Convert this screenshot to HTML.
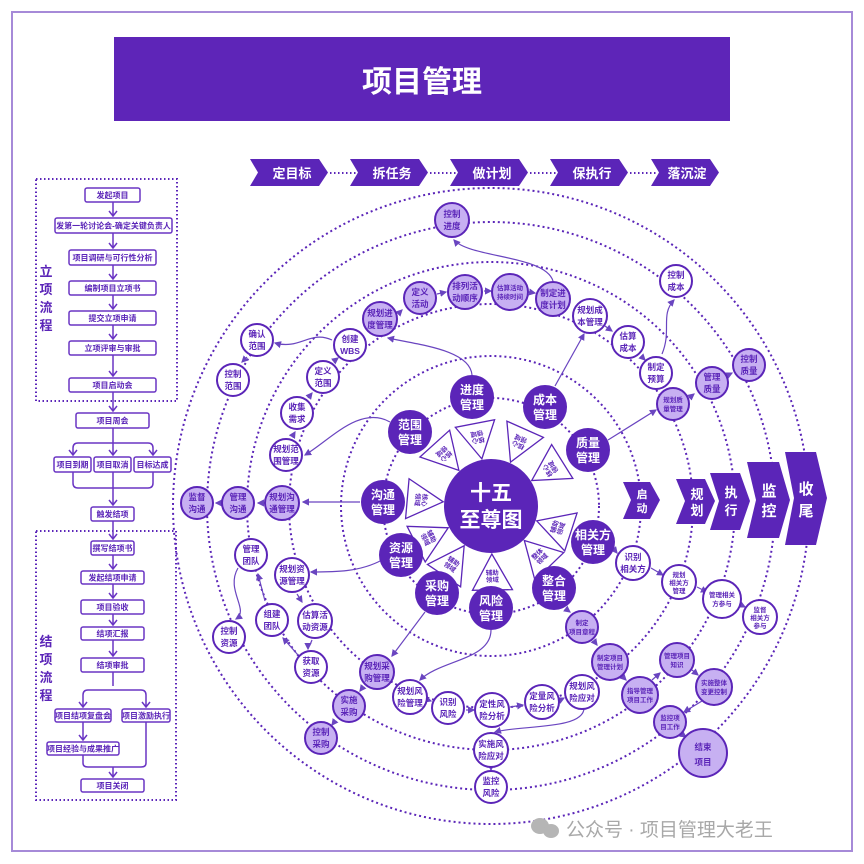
<!DOCTYPE html>
<html><head><meta charset="utf-8"><style>
html,body{margin:0;padding:0;background:#fff}
svg{display:block}
text{font-family:"Liberation Sans","Noto Sans CJK SC",sans-serif;font-weight:bold}
.b{fill:#fff;stroke:#6a35c4;stroke-width:1.5}
.bt{fill:#5b25b8;font-size:8px;text-anchor:middle}
.r{fill:none;stroke:#5b25b8;stroke-width:2;stroke-dasharray:2 3}
.d{fill:none;stroke:#5b25b8;stroke-width:2;stroke-dasharray:1.5 2.5}
.a{fill:none;stroke:#6a45c0;stroke-width:1.2;marker-end:url(#ar)}
.w{fill:#fff;stroke:#5b25b8;stroke-width:2}
.l{fill:#c7b0f2;stroke:#5b25b8;stroke-width:2}
.k{fill:#5b25b8}
.nt{fill:#5b25b8;font-size:8.5px;text-anchor:middle}
.st{fill:#5b25b8;font-size:6.5px;text-anchor:middle}
.kt{fill:#fff;font-size:12px;text-anchor:middle}
.tri{fill:#fff;stroke:#5b25b8;stroke-width:1.3}
.tt{fill:#5b25b8;font-size:6.5px;text-anchor:middle}
.ch{fill:#5b25b8}
.ct{fill:#fff;text-anchor:middle}
</style></head><body>
<svg width="864" height="864" viewBox="0 0 864 864" xmlns="http://www.w3.org/2000/svg">
<defs><marker id="ar" markerWidth="6" markerHeight="6" refX="5" refY="3" orient="auto"><path d="M0,0 L6,3 L0,6 z" fill="#6a45c0"/></marker></defs>
<rect x="12" y="12" width="840" height="839" fill="none" stroke="#a68ad8" stroke-width="2"/>
<rect x="114" y="37" width="616" height="84" fill="#5e25b8"/>
<text x="422" y="92" fill="#fff" font-size="30" text-anchor="middle">项目管理</text>

<g>
<path class="ch" d="M250,159 L319,159 L328,172.5 L319,186 L250,186 L258,172.5Z"/>
<path class="ch" d="M350,159 L419,159 L428,172.5 L419,186 L350,186 L358,172.5Z"/>
<path class="ch" d="M450,159 L519,159 L528,172.5 L519,186 L450,186 L458,172.5Z"/>
<path class="ch" d="M550,159 L619,159 L628,172.5 L619,186 L550,186 L558,172.5Z"/>
<path class="ch" d="M651,159 L710,159 L719,172.5 L710,186 L651,186 L659,172.5Z"/>
<line class="d" x1="330" y1="173" x2="356" y2="173" stroke-width="1.5"/>
<line class="d" x1="430" y1="173" x2="456" y2="173" stroke-width="1.5"/>
<line class="d" x1="530" y1="173" x2="556" y2="173" stroke-width="1.5"/>
<line class="d" x1="630" y1="173" x2="657" y2="173" stroke-width="1.5"/>
<text class="ct" x="292" y="178" font-size="13">定目标</text>
<text class="ct" x="392" y="178" font-size="13">拆任务</text>
<text class="ct" x="492" y="178" font-size="13">做计划</text>
<text class="ct" x="592" y="178" font-size="13">保执行</text>
<text class="ct" x="687" y="178" font-size="13">落沉淀</text>
</g>

<rect x="36" y="179" width="141" height="222" fill="none" stroke="#5b25b8" stroke-width="2" stroke-dasharray="1.5 2.5"/>
<rect x="36" y="531" width="140" height="269" fill="none" stroke="#5b25b8" stroke-width="2" stroke-dasharray="1.5 2.5"/>
<g fill="#5b25b8" font-size="13" text-anchor="middle">
<text x="46" y="276">立</text><text x="46" y="294">项</text><text x="46" y="312">流</text><text x="46" y="330">程</text>
<text x="46" y="646">结</text><text x="46" y="664">项</text><text x="46" y="682">流</text><text x="46" y="700">程</text>
</g>
<g stroke="#6a35c4" stroke-width="1.5" fill="none">
<path d="M113,202 V216 M109,211 L113,216 L117,211"/>
<path d="M113,233 V248 M109,243 L113,248 L117,243"/>
<path d="M113,265 V279 M109,274 L113,279 L117,274"/>
<path d="M113,295 V309 M109,304 L113,309 L117,304"/>
<path d="M113,325 V339 M109,334 L113,339 L117,334"/>
<path d="M113,355 V376 M109,371 L113,376 L117,371"/>
<path d="M113,392 V411 M109,406 L113,411 L117,406"/>
<path d="M113,428 V455 M73,455 V448 Q73,443 78,443 H148 Q153,443 153,448 V455 M69,450 L73,455 L77,450 M109,450 L113,455 L117,450 M149,450 L153,455 L157,450"/>
<path d="M73,472 V483 Q73,488 78,488 H148 Q153,488 153,483 V472 M113,472 V505 M109,500 L113,505 L117,500"/>
<path d="M113,521 V539 M109,534 L113,539 L117,534"/>
<path d="M113,555 V569 M109,564 L113,569 L117,564"/>
<path d="M113,584 V598 M109,593 L113,598 L117,593"/>
<path d="M113,614 V625 M109,620 L113,625 L117,620"/>
<path d="M113,640 V656 M109,651 L113,656 L117,651"/>
<path d="M113,672 V686 M83,707 V695 Q83,690 88,690 H141 Q146,690 146,695 V707 M79,702 L83,707 L87,702 M142,702 L146,707 L150,702"/>
<path d="M83,722 V740 M79,735 L83,740 L87,735"/>
<path d="M83,755 V763 Q83,767 88,767 H141 Q146,767 146,763 V722 M113,767 V777 M109,772 L113,777 L117,772"/>
</g>
<rect class="b" x="85" y="188" width="55" height="14" rx="2"/><text class="bt" x="112.5" y="198">发起项目</text>
<rect class="b" x="55" y="218" width="117" height="15" rx="2"/><text class="bt" x="113.5" y="228.5">发第一轮讨论会-确定关键负责人</text>
<rect class="b" x="69" y="250" width="87" height="15" rx="2"/><text class="bt" x="112.5" y="260.5">项目调研与可行性分析</text>
<rect class="b" x="69" y="281" width="87" height="14" rx="2"/><text class="bt" x="112.5" y="291">编制项目立项书</text>
<rect class="b" x="69" y="311" width="87" height="14" rx="2"/><text class="bt" x="112.5" y="321">提交立项申请</text>
<rect class="b" x="69" y="341" width="87" height="14" rx="2"/><text class="bt" x="112.5" y="351">立项评审与审批</text>
<rect class="b" x="69" y="378" width="87" height="14" rx="2"/><text class="bt" x="112.5" y="388">项目启动会</text>
<rect class="b" x="76" y="413" width="73" height="15" rx="2"/><text class="bt" x="112.5" y="423.5">项目周会</text>
<rect class="b" x="54" y="457" width="37" height="15" rx="2"/><text class="bt" x="72.5" y="467.5">项目到期</text>
<rect class="b" x="94" y="457" width="37" height="15" rx="2"/><text class="bt" x="112.5" y="467.5">项目取消</text>
<rect class="b" x="134" y="457" width="37" height="15" rx="2"/><text class="bt" x="152.5" y="467.5">目标达成</text>
<rect class="b" x="91" y="507" width="43" height="14" rx="2"/><text class="bt" x="112.5" y="517">触发结项</text>
<rect class="b" x="91" y="541" width="43" height="14" rx="2"/><text class="bt" x="112.5" y="551">撰写结项书</text>
<rect class="b" x="81" y="571" width="63" height="13" rx="2"/><text class="bt" x="112.5" y="580.5">发起结项申请</text>
<rect class="b" x="81" y="600" width="63" height="14" rx="2"/><text class="bt" x="112.5" y="610">项目验收</text>
<rect class="b" x="81" y="627" width="63" height="13" rx="2"/><text class="bt" x="112.5" y="636.5">结项汇报</text>
<rect class="b" x="81" y="658" width="63" height="14" rx="2"/><text class="bt" x="112.5" y="668">结项审批</text>
<rect class="b" x="55" y="709" width="56" height="13" rx="2"/><text class="bt" x="83" y="718.5">项目结项复盘会</text>
<rect class="b" x="122" y="709" width="48" height="13" rx="2"/><text class="bt" x="146" y="718.5">项目激励执行</text>
<rect class="b" x="47" y="742" width="72" height="13" rx="2"/><text class="bt" x="83" y="751.5">项目经验与成果推广</text>
<rect class="b" x="81" y="779" width="63" height="13" rx="2"/><text class="bt" x="112.5" y="788.5">项目关闭</text>

<g>
<circle class="r" cx="491" cy="506" r="108"/>
<circle class="r" cx="491" cy="506" r="150"/>
<circle class="r" cx="491" cy="506" r="202"/>
<circle class="r" cx="491" cy="506" r="244"/>
<circle class="r" cx="491" cy="506" r="284"/>
<circle class="r" cx="491" cy="506" r="318"/>
</g>

<path class="ch" d="M623,482 L650,482 L660,500 L650,519 L623,519 L631,500Z"/>
<path class="ch" d="M676,479 L705,479 L715,501 L705,524 L676,524 L685,501Z"/>
<path class="ch" d="M710,473 L740,473 L750,501 L740,530 L710,530 L719,501Z"/>
<path class="ch" d="M747,462 L779,462 L790,500 L779,538 L747,538 L756,500Z"/>
<path class="ch" d="M785,452 L816,452 L827,498 L816,545 L785,545 L794,498Z"/>
<g class="ct" font-size="11"><text x="642" y="498">启</text><text x="642" y="512">动</text></g>
<g class="ct" font-size="13"><text x="697" y="499">规</text><text x="697" y="515">划</text>
<text x="731" y="497">执</text><text x="731" y="515">行</text></g>
<g class="ct" font-size="15"><text x="769" y="496">监</text><text x="769" y="516">控</text>
<text x="806" y="494">收</text><text x="806" y="516">尾</text></g>

<g>
<path class="a" d="M553,281 C545,255 470,258 454,240"/>
<path class="a" d="M398,314 L402,310"/><path class="a" d="M437,294 L446,292"/><path class="a" d="M484,291 L491,291"/><path class="a" d="M529,292 L535,293"/>
<path class="a" d="M472,375 C470,350 420,345 388,338"/>
<path class="a" d="M555,386 L584,334"/>
<path class="a" d="M605,326 L612,331"/><path class="a" d="M641,356 L645,360"/>
<path class="a" d="M662,354 C672,330 660,315 674,300"/>
<path class="a" d="M608,440 L656,410"/>
<path class="a" d="M689,398 L694,394"/><path class="a" d="M728,375 L732,373"/>
<path class="a" d="M390,422 C360,405 330,440 305,455"/>
<path class="a" d="M292,437 L295,432"/><path class="a" d="M308,398 L312,393"/><path class="a" d="M334,361 L338,358"/>
<path class="a" d="M332,340 C310,330 300,350 275,343"/>
<path class="a" d="M247,357 L242,362"/>
<path class="a" d="M360,502 L303,502"/><path class="a" d="M263,503 L258,503"/><path class="a" d="M219,503 L216,503"/>
<path class="a" d="M382,560 C360,572 335,572 311,572"/>
<path class="a" d="M297,594 L302,602"/>
<path class="a" d="M312,640 C310,646 308,646 308,649"/>
<path class="a" d="M298,655 L283,638"/><path class="a" d="M265,601 L258,574"/>
<path class="a" d="M238,568 C225,590 250,610 236,619"/>
<path class="a" d="M425,612 L392,656"/><path class="a" d="M363,687 L360,691"/><path class="a" d="M335,721 L332,725"/>
<path class="a" d="M491,630 C491,660 440,660 420,680"/>
<path class="a" d="M428,700 L431,701"/><path class="a" d="M466,710 L474,710"/><path class="a" d="M510,707 L523,705"/>
<path class="a" d="M560,700 L564,698"/>
<path class="a" d="M584,708 C584,730 520,725 495,732"/>
<path class="a" d="M491,768 L491,770"/>
<path class="a" d="M613,548 L617,553"/><path class="a" d="M651,568 L663,575"/><path class="a" d="M697,587 L707,592"/><path class="a" d="M743,606 L745,607"/>
<path class="a" d="M566,609 L570,612"/><path class="a" d="M594,641 L597,645"/><path class="a" d="M624,678 L626,680"/>
<path class="a" d="M652,680 L660,673"/><path class="a" d="M692,670 L698,675"/><path class="a" d="M702,701 L684,712"/><path class="a" d="M683,735 L686,737"/>
</g>

<g>
<g transform="translate(491,506) rotate(-132)"><polygon class="tri" points="48,0 84,-20 84,20"/><text class="tt" transform="translate(70,0) rotate(-90)" y="-1">核心</text><text class="tt" transform="translate(70,0) rotate(-90)" y="6">领域</text></g>
<g transform="translate(491,506) rotate(-101)"><polygon class="tri" points="48,0 84,-20 84,20"/><text class="tt" transform="translate(70,0) rotate(-90)" y="-1">核心</text><text class="tt" transform="translate(70,0) rotate(-90)" y="6">领域</text></g>
<g transform="translate(491,506) rotate(-66)"><polygon class="tri" points="48,0 84,-20 84,20"/><text class="tt" transform="translate(70,0) rotate(-90)" y="-1">核心</text><text class="tt" transform="translate(70,0) rotate(-90)" y="6">领域</text></g>
<g transform="translate(491,506) rotate(-32)"><polygon class="tri" points="48,0 84,-20 84,20"/><text class="tt" transform="translate(70,0) rotate(-90)" y="-1">核心</text><text class="tt" transform="translate(70,0) rotate(-90)" y="6">领域</text></g>
<g transform="translate(491,506) rotate(18)"><polygon class="tri" points="48,0 84,-20 84,20"/><text class="tt" transform="translate(70,0) rotate(-90)" y="-1">辅助</text><text class="tt" transform="translate(70,0) rotate(-90)" y="6">领域</text></g>
<g transform="translate(491,506) rotate(46)"><polygon class="tri" points="48,0 84,-20 84,20"/><text class="tt" transform="translate(70,0) rotate(-90)" y="-1">整体</text><text class="tt" transform="translate(70,0) rotate(-90)" y="6">领域</text></g>
<g transform="translate(491,506) rotate(89)"><polygon class="tri" points="48,0 84,-20 84,20"/><text class="tt" transform="translate(70,0) rotate(-90)" y="-1">辅助</text><text class="tt" transform="translate(70,0) rotate(-90)" y="6">领域</text></g>
<g transform="translate(491,506) rotate(124)"><polygon class="tri" points="48,0 84,-20 84,20"/><text class="tt" transform="translate(70,0) rotate(-90)" y="-1">辅助</text><text class="tt" transform="translate(70,0) rotate(-90)" y="6">领域</text></g>
<g transform="translate(491,506) rotate(153)"><polygon class="tri" points="48,0 84,-20 84,20"/><text class="tt" transform="translate(70,0) rotate(-90)" y="-1">辅助</text><text class="tt" transform="translate(70,0) rotate(-90)" y="6">领域</text></g>
<g transform="translate(491,506) rotate(185)"><polygon class="tri" points="48,0 84,-20 84,20"/><text class="tt" transform="translate(70,0) rotate(-90)" y="-1">核心</text><text class="tt" transform="translate(70,0) rotate(-90)" y="6">领域</text></g>
</g>

<circle class="k" cx="491" cy="506" r="47"/>
<text x="491" y="500" fill="#fff" font-size="21" text-anchor="middle">十五</text>
<text x="491" y="527" fill="#fff" font-size="21" text-anchor="middle">至尊图</text>

<g>
<circle class="k" cx="472" cy="397" r="22"/><text class="kt" x="472" y="394">进度</text><text class="kt" x="472" y="409">管理</text>
<circle class="k" cx="545" cy="407" r="22"/><text class="kt" x="545" y="404">成本</text><text class="kt" x="545" y="419">管理</text>
<circle class="k" cx="410" cy="432" r="22"/><text class="kt" x="410" y="429">范围</text><text class="kt" x="410" y="444">管理</text>
<circle class="k" cx="588" cy="450" r="22"/><text class="kt" x="588" y="447">质量</text><text class="kt" x="588" y="462">管理</text>
<circle class="k" cx="383" cy="502" r="22"/><text class="kt" x="383" y="499">沟通</text><text class="kt" x="383" y="514">管理</text>
<circle class="k" cx="593" cy="542" r="22"/><text class="kt" x="593" y="539">相关方</text><text class="kt" x="593" y="554">管理</text>
<circle class="k" cx="401" cy="555" r="22"/><text class="kt" x="401" y="552">资源</text><text class="kt" x="401" y="567">管理</text>
<circle class="k" cx="554" cy="588" r="22"/><text class="kt" x="554" y="585">整合</text><text class="kt" x="554" y="600">管理</text>
<circle class="k" cx="437" cy="593" r="22"/><text class="kt" x="437" y="590">采购</text><text class="kt" x="437" y="605">管理</text>
<circle class="k" cx="491" cy="608" r="22"/><text class="kt" x="491" y="605">风险</text><text class="kt" x="491" y="620">管理</text>
</g>

<g>
<circle class="l" cx="452" cy="220" r="17"/><text class="nt" x="452" y="217">控制</text><text class="nt" x="452" y="229">进度</text>
<circle class="l" cx="380" cy="319" r="17"/><text class="nt" x="380" y="316">规划进</text><text class="nt" x="380" y="328">度管理</text>
<circle class="l" cx="420" cy="298" r="16"/><text class="nt" x="420" y="295">定义</text><text class="nt" x="420" y="307">活动</text>
<circle class="l" cx="465" cy="292" r="17"/><text class="nt" x="465" y="289">排列活</text><text class="nt" x="465" y="301">动顺序</text>
<circle class="l" cx="510" cy="292" r="18"/><text class="st" x="510" y="290">估算活动</text><text class="st" x="510" y="299">持续时间</text>
<circle class="l" cx="553" cy="299" r="17"/><text class="nt" x="553" y="296">制定进</text><text class="nt" x="553" y="308">度计划</text>
<circle class="w" cx="590" cy="316" r="17"/><text class="nt" x="590" y="313">规划成</text><text class="nt" x="590" y="325">本管理</text>
<circle class="w" cx="628" cy="342" r="16"/><text class="nt" x="628" y="339">估算</text><text class="nt" x="628" y="351">成本</text>
<circle class="w" cx="656" cy="373" r="16"/><text class="nt" x="656" y="370">制定</text><text class="nt" x="656" y="382">预算</text>
<circle class="w" cx="676" cy="281" r="16"/><text class="nt" x="676" y="278">控制</text><text class="nt" x="676" y="290">成本</text>
<circle class="l" cx="673" cy="404" r="16"/><text class="st" x="673" y="402">规划质</text><text class="st" x="673" y="411">量管理</text>
<circle class="l" cx="712" cy="383" r="16"/><text class="nt" x="712" y="380">管理</text><text class="nt" x="712" y="392">质量</text>
<circle class="l" cx="749" cy="365" r="16"/><text class="nt" x="749" y="362">控制</text><text class="nt" x="749" y="374">质量</text>
<circle class="w" cx="257" cy="340" r="16"/><text class="nt" x="257" y="337">确认</text><text class="nt" x="257" y="349">范围</text>
<circle class="w" cx="233" cy="380" r="16"/><text class="nt" x="233" y="377">控制</text><text class="nt" x="233" y="389">范围</text>
<circle class="w" cx="350" cy="345" r="16"/><text class="nt" x="350" y="342">创建</text><text class="nt" x="350" y="354">WBS</text>
<circle class="w" cx="323" cy="377" r="16"/><text class="nt" x="323" y="374">定义</text><text class="nt" x="323" y="386">范围</text>
<circle class="w" cx="297" cy="413" r="16"/><text class="nt" x="297" y="410">收集</text><text class="nt" x="297" y="422">需求</text>
<circle class="w" cx="286" cy="455" r="16"/><text class="nt" x="286" y="452">规划范</text><text class="nt" x="286" y="464">围管理</text>
<circle class="l" cx="197" cy="503" r="16"/><text class="nt" x="197" y="500">监督</text><text class="nt" x="197" y="512">沟通</text>
<circle class="l" cx="238" cy="503" r="16"/><text class="nt" x="238" y="500">管理</text><text class="nt" x="238" y="512">沟通</text>
<circle class="l" cx="282" cy="503" r="17"/><text class="nt" x="282" y="500">规划沟</text><text class="nt" x="282" y="512">通管理</text>
<circle class="w" cx="251" cy="555" r="16"/><text class="nt" x="251" y="552">管理</text><text class="nt" x="251" y="564">团队</text>
<circle class="w" cx="292" cy="575" r="17"/><text class="nt" x="292" y="572">规划资</text><text class="nt" x="292" y="584">源管理</text>
<circle class="w" cx="272" cy="620" r="16"/><text class="nt" x="272" y="617">组建</text><text class="nt" x="272" y="629">团队</text>
<circle class="w" cx="315" cy="621" r="17"/><text class="nt" x="315" y="618">估算活</text><text class="nt" x="315" y="630">动资源</text>
<circle class="w" cx="229" cy="637" r="16"/><text class="nt" x="229" y="634">控制</text><text class="nt" x="229" y="646">资源</text>
<circle class="w" cx="311" cy="667" r="16"/><text class="nt" x="311" y="664">获取</text><text class="nt" x="311" y="676">资源</text>
<circle class="l" cx="377" cy="672" r="17"/><text class="nt" x="377" y="669">规划采</text><text class="nt" x="377" y="681">购管理</text>
<circle class="l" cx="349" cy="706" r="16"/><text class="nt" x="349" y="703">实施</text><text class="nt" x="349" y="715">采购</text>
<circle class="l" cx="321" cy="738" r="16"/><text class="nt" x="321" y="735">控制</text><text class="nt" x="321" y="747">采购</text>
<circle class="w" cx="410" cy="697" r="17"/><text class="nt" x="410" y="694">规划风</text><text class="nt" x="410" y="706">险管理</text>
<circle class="w" cx="448" cy="708" r="16"/><text class="nt" x="448" y="705">识别</text><text class="nt" x="448" y="717">风险</text>
<circle class="w" cx="492" cy="710" r="17"/><text class="nt" x="492" y="707">定性风</text><text class="nt" x="492" y="719">险分析</text>
<circle class="w" cx="542" cy="702" r="17"/><text class="nt" x="542" y="699">定量风</text><text class="nt" x="542" y="711">险分析</text>
<circle class="w" cx="582" cy="692" r="17"/><text class="nt" x="582" y="689">规划风</text><text class="nt" x="582" y="701">险应对</text>
<circle class="w" cx="491" cy="750" r="17"/><text class="nt" x="491" y="747">实施风</text><text class="nt" x="491" y="759">险应对</text>
<circle class="w" cx="491" cy="787" r="16"/><text class="nt" x="491" y="784">监控</text><text class="nt" x="491" y="796">风险</text>
<circle class="w" cx="633" cy="563" r="17"/><text class="nt" x="633" y="560">识别</text><text class="nt" x="633" y="572">相关方</text>
<circle class="w" cx="679" cy="582" r="17"/><text class="st" x="679" y="577">规划</text><text class="st" x="679" y="585">相关方</text><text class="st" x="679" y="593">管理</text>
<circle class="w" cx="722" cy="599" r="19"/><text class="st" x="722" y="597">管理相关</text><text class="st" x="722" y="606">方参与</text>
<circle class="w" cx="760" cy="617" r="17"/><text class="st" x="760" y="612">监督</text><text class="st" x="760" y="620">相关方</text><text class="st" x="760" y="628">参与</text>
<circle class="l" cx="582" cy="627" r="16"/><text class="st" x="582" y="625">制定</text><text class="st" x="582" y="634">项目章程</text>
<circle class="l" cx="610" cy="662" r="18"/><text class="st" x="610" y="660">制定项目</text><text class="st" x="610" y="669">管理计划</text>
<circle class="l" cx="640" cy="695" r="18"/><text class="st" x="640" y="693">指导管理</text><text class="st" x="640" y="702">项目工作</text>
<circle class="l" cx="677" cy="660" r="17"/><text class="st" x="677" y="658">管理项目</text><text class="st" x="677" y="667">知识</text>
<circle class="l" cx="714" cy="687" r="18"/><text class="st" x="714" y="685">实施整体</text><text class="st" x="714" y="694">变更控制</text>
<circle class="l" cx="670" cy="722" r="16"/><text class="st" x="670" y="720">监控项</text><text class="st" x="670" y="729">目工作</text>
<circle class="l" cx="703" cy="753" r="24"/><text class="nt" x="703" y="750" font-size="11">结束</text><text class="nt" x="703" y="765" font-size="11">项目</text>
</g>

<g fill="#b5b5b5"><ellipse cx="540" cy="826" rx="9" ry="8"/><ellipse cx="551" cy="831" rx="8" ry="7"/></g>
<text x="566" y="836" fill="#a8a8a8" font-size="19" style="font-weight:normal">公众号 · 项目管理大老王</text>
</svg>
</body></html>
